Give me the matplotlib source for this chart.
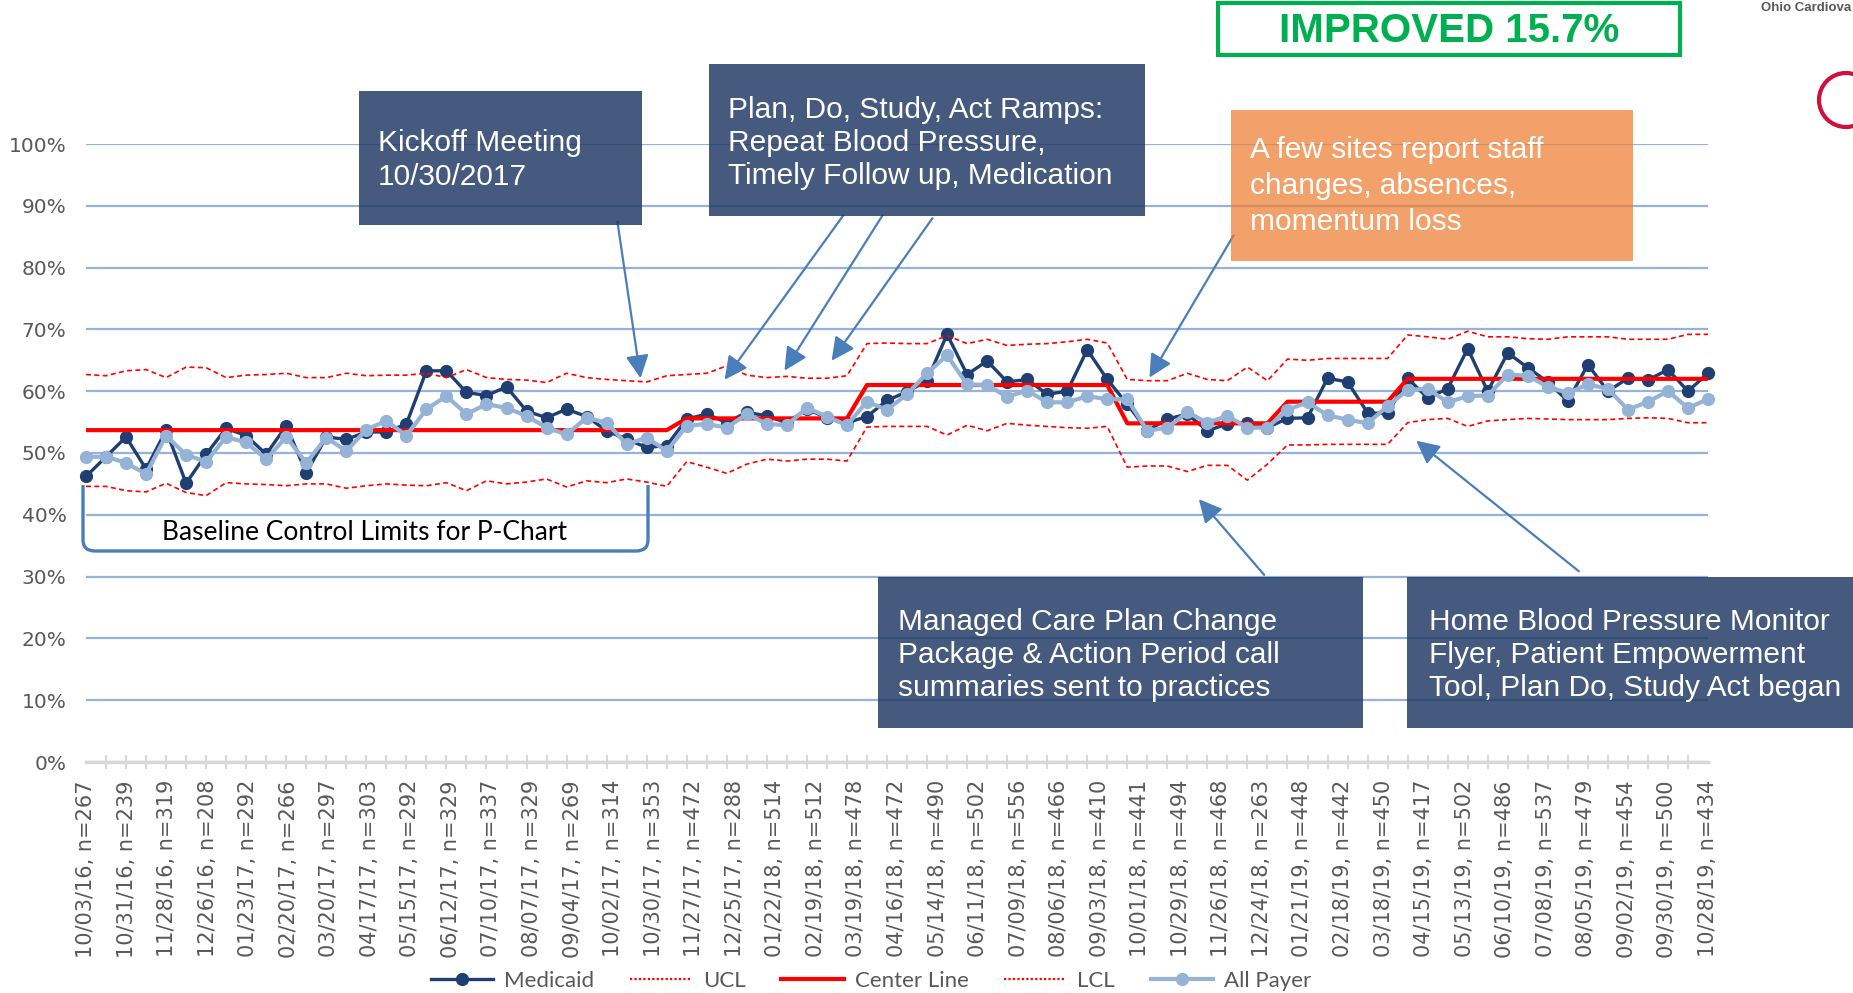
import numpy as np
import matplotlib.pyplot as plt
from matplotlib import font_manager
from matplotlib.patches import Rectangle, FancyArrowPatch, Circle, PathPatch
from matplotlib.path import Path
from matplotlib.lines import Line2D

W, H = 1853, 993

# x labels (every 4 weeks) and their sample sizes
label_dates = ["10/03/16", "10/31/16", "11/28/16", "12/26/16", "01/23/17", "02/20/17", "03/20/17",
               "04/17/17", "05/15/17", "06/12/17", "07/10/17", "08/07/17", "09/04/17", "10/02/17",
               "10/30/17", "11/27/17", "12/25/17", "01/22/18", "02/19/18", "03/19/18", "04/16/18",
               "05/14/18", "06/11/18", "07/09/18", "08/06/18", "09/03/18", "10/01/18", "10/29/18",
               "11/26/18", "12/24/18", "01/21/19", "02/18/19", "03/18/19", "04/15/19", "05/13/19",
               "06/10/19", "07/08/19", "08/05/19", "09/02/19", "09/30/19", "10/28/19"]
label_n = [267, 239, 319, 208, 292, 266, 297, 303, 292, 329, 337, 329, 269, 314, 353, 472, 288,
           514, 512, 478, 472, 490, 502, 556, 466, 410, 441, 494, 468, 263, 448, 442, 450, 417,
           502, 486, 537, 479, 454, 500, 434]

# percent values, one per plotted period
medicaid = [46.2, 49.4, 52.6, 47.4, 53.7, 45.1, 49.8, 54.0, 52.8, 49.8, 54.4, 46.8, 52.6, 52.2,
            53.4, 53.4, 54.7, 63.3, 63.3, 59.8, 59.3, 60.7, 56.8, 55.7, 57.1, 55.9, 53.6,
            52.2, 50.9, 51.2, 55.5, 56.3, 54.9, 56.6, 56.0, 54.9, 57.1, 55.7, 54.9, 55.9, 58.5,
            59.9, 61.7, 69.2, 62.7, 64.9, 61.5, 61.9, 59.5, 60.0, 66.7, 61.9, 57.9, 53.6,
            55.5, 56.3, 53.6, 54.7, 54.9, 54.1, 55.6, 55.7, 62.1, 61.5, 56.5, 56.4, 62.1, 58.9,
            60.4, 66.9, 60.0, 66.2, 63.8, 61.5, 58.4, 64.3, 60.0, 62.1, 61.8, 63.5, 60.0, 62.9]
all_payer = [49.4, 49.4, 48.4, 46.6, 52.8, 49.7, 48.6, 52.6, 51.7, 49.0, 52.6, 48.4, 52.5, 50.3,
             53.8, 55.2, 52.8, 57.1, 59.2, 56.3, 57.9, 57.3, 56.0, 54.1, 53.0, 55.7, 54.9,
             51.4, 52.5, 50.3, 54.4, 54.7, 54.1, 56.3, 54.7, 54.5, 57.3, 55.9, 54.5, 58.3, 57.0,
             59.5, 62.9, 65.8, 61.1, 61.0, 59.1, 60.1, 58.2, 58.2, 59.2, 58.7, 58.7, 53.6,
             54.1, 56.6, 54.9, 56.0, 54.1, 54.1, 57.0, 58.2, 56.1, 55.4, 54.8, 57.6, 60.2, 60.4,
             58.2, 59.2, 59.3, 62.7, 62.5, 60.7, 59.7, 61.1, 60.4, 57.0, 58.3, 60.0, 57.3, 58.7]
center_line = [53.7, 53.7, 53.7, 53.7, 53.7, 53.7, 53.7, 53.7, 53.7, 53.7, 53.7, 53.7, 53.7, 53.7,
               53.7, 53.7, 53.7, 53.7, 53.7, 53.7, 53.7, 53.7, 53.7, 53.7, 53.7, 53.7, 53.7,
               53.7, 53.7, 53.7, 55.6, 55.6, 55.6, 55.6, 55.6, 55.6, 55.6, 55.6, 55.6, 61.0, 61.0,
               61.0, 61.0, 61.0, 61.0, 61.0, 61.0, 61.0, 61.0, 61.0, 61.0, 61.0, 54.8, 54.8,
               54.8, 54.8, 54.8, 54.8, 54.8, 54.8, 58.3, 58.3, 58.3, 58.3, 58.3, 58.3, 62.0, 62.0,
               62.0, 62.0, 62.0, 62.0, 62.0, 62.0, 62.0, 62.0, 62.0, 62.0, 62.0, 62.0, 62.0, 62.0]
ucl = [62.7, 62.5, 63.3, 63.5, 62.2, 63.9, 63.8, 62.2, 62.6, 62.7, 62.9, 62.2, 62.2, 62.9,
       62.5, 62.6, 62.6, 62.9, 62.2, 63.5, 62.2, 61.9, 61.8, 61.4, 62.9, 62.2, 61.9,
       61.7, 61.5, 62.5, 62.7, 62.9, 64.1, 62.6, 62.2, 62.4, 62.1, 62.1, 62.5, 67.7, 67.8,
       67.7, 67.7, 69.0, 67.7, 68.4, 67.4, 67.6, 67.7, 68.0, 68.4, 67.8, 61.9, 61.7,
       61.7, 62.9, 61.9, 61.7, 63.9, 61.7, 65.2, 65.0, 65.3, 65.3, 65.3, 65.3, 69.1, 68.8,
       68.4, 69.7, 68.8, 68.8, 68.5, 68.4, 68.8, 68.8, 68.8, 68.4, 68.4, 68.4, 69.2, 69.2]
lcl = [44.6, 44.6, 43.9, 43.7, 45.1, 43.6, 43.1, 45.2, 45.0, 44.9, 44.7, 45.0, 45.0, 44.3,
       44.7, 45.0, 44.8, 44.7, 45.2, 43.9, 45.5, 45.0, 45.3, 45.8, 44.5, 45.5, 45.2,
       45.8, 45.3, 44.6, 48.6, 47.7, 46.7, 48.2, 49.0, 48.7, 49.0, 49.0, 48.7, 54.2, 54.3,
       54.3, 54.3, 52.9, 54.5, 53.6, 54.8, 54.5, 54.3, 54.1, 54.0, 54.3, 47.7, 47.9,
       47.9, 47.0, 48.0, 48.0, 45.6, 48.2, 51.3, 51.3, 51.4, 51.4, 51.4, 51.4, 54.9, 55.4,
       55.6, 54.3, 55.2, 55.4, 55.6, 55.5, 55.4, 55.4, 55.4, 55.6, 55.7, 55.6, 54.9, 54.9]

installed = {f.name for f in font_manager.fontManager.ttflist}
has_narrow = 'Liberation Sans Narrow' in installed
narrow = ['Liberation Sans Narrow'] if has_narrow else ['Liberation Sans', 'DejaVu Sans']
arial = ['Liberation Sans', 'DejaVu Sans']
calib = ['Lato', 'DejaVu Sans']

navy = '#1F3864'
dark = '#1F3F72'
light = '#95B3D7'
arrow_c = '#4A7EBB'
gray = '#595959'

fig = plt.figure(figsize=(W / 100, H / 100), dpi=100)
ax = fig.add_axes([86 / W, 1 - 762 / H, (1708 - 86) / W, (762 - 144) / H])

x = np.arange(len(medicaid))
ax.plot(x, medicaid, '-o', color=dark, lw=2.4, ms=8.5, zorder=3, clip_on=False)
ax.plot(x, ucl, color='red', lw=1.2, ls=(0, (3, 2)), zorder=3)
ax.plot(x, center_line, color='red', lw=3, zorder=3)
ax.plot(x, lcl, color='red', lw=1.2, ls=(0, (3, 2)), zorder=3)
ax.plot(x, all_payer, '-o', color=light, lw=3, ms=8.5, zorder=4, clip_on=False)

ax.set_xlim(0, len(medicaid) - 1)
ax.set_ylim(0, 100)
ax.set_yticks(range(0, 101, 10))
ax.set_yticklabels([f"{v}%" for v in range(0, 101, 10)])
ax.tick_params(axis='y', length=0, pad=14, labelsize=14.5, labelcolor=gray)

ax.set_xticks(np.linspace(0, len(medicaid) - 1, len(label_dates)))
ax.set_xticklabels([f"{d}, n={n}" for d, n in zip(label_dates, label_n)], rotation=90)
ax.set_xticks(x, minor=True)
ax.tick_params(axis='x', which='major', length=0, pad=13, labelsize=15, labelcolor=gray)
ax.tick_params(axis='x', which='minor', direction='inout', length=10, width=1.5, color='#D9D9D9')

ax.grid(axis='y', color=light, lw=1.6)
ax.set_axisbelow(True)
for s in ['top', 'right', 'left']:
    ax.spines[s].set_visible(False)
ax.spines['bottom'].set_color('#D9D9D9')
ax.spines['bottom'].set_linewidth(2.5)

handles = [Line2D([], [], color=dark, lw=2.4, marker='o', ms=8.5),
           Line2D([], [], color='red', lw=1.6, ls=(0, (1, 1))),
           Line2D([], [], color='red', lw=3),
           Line2D([], [], color='red', lw=1.6, ls=(0, (1, 1))),
           Line2D([], [], color=light, lw=3, marker='o', ms=8.5)]
leg = fig.legend(handles, ['Medicaid', 'UCL', 'Center Line', 'LCL', 'All Payer'],
                 loc='center', bbox_to_anchor=(871 / W, 1 - 981 / H), ncol=5, frameon=False,
                 handlelength=2.8, columnspacing=1.6, handletextpad=0.5,
                 prop={'family': calib, 'size': 16})
for t in leg.get_texts():
    t.set_color(gray)

# overlay in pixel coordinates for the call-outs
ov = fig.add_axes([0, 0, 1, 1], zorder=5)
ov.set_xlim(0, W)
ov.set_ylim(H, 0)
ov.axis('off')
ov.patch.set_alpha(0)

arrows = [((617, 219), (641, 381)),
          ((845, 213), (723, 382)),
          ((884, 213), (783, 373)),
          ((934, 216), (830, 363)),
          ((1235, 233), (1148, 380)),
          ((1266, 577), (1197, 497)),
          ((1581, 573), (1414, 439))]
for tail, head in arrows:
    ov.add_patch(FancyArrowPatch(tail, head, arrowstyle='-|>,head_length=1.0,head_width=0.5',
                                 mutation_scale=14, color=arrow_c, lw=1.6, zorder=1))

boxes = [(359, 91, 283, 134, navy, 0.83),
         (709, 64, 436, 152, navy, 0.83),
         (1231, 110, 402, 151, '#ED7D31', 0.72),
         (878, 577, 485, 151, navy, 0.83),
         (1407, 577, 460, 151, navy, 0.83)]
for bx, by, bw, bh, c, a in boxes:
    ov.add_patch(Rectangle((bx, by), bw, bh, facecolor=c, edgecolor='none', alpha=a, zorder=2))

notes = [(378, 160, "Kickoff Meeting\n10/30/2017", 1.26),
         (728, 143, "Plan, Do, Study, Act Ramps:\nRepeat Blood Pressure,\nTimely Follow up, Medication", 1.25),
         (1250, 186, "A few sites report staff\nchanges, absences,\nmomentum loss", 1.36),
         (898, 655, "Managed Care Plan Change\nPackage & Action Period call\nsummaries sent to practices", 1.25),
         (1429, 655, "Home Blood Pressure Monitor\nFlyer, Patient Empowerment\nTool, Plan Do, Study Act began", 1.25)]
for tx, ty, txt, ls in notes:
    ov.text(tx, ty, txt, ha='left', va='center', color='white', fontsize=21.5,
            family=arial, linespacing=ls, zorder=3)

# baseline bracket
verts = [(83, 485), (83, 540), (83, 551), (95, 551), (636, 551), (648, 551), (648, 540), (648, 485)]
codes = [Path.MOVETO, Path.LINETO, Path.CURVE3, Path.CURVE3, Path.LINETO, Path.CURVE3, Path.CURVE3, Path.LINETO]
ov.add_patch(PathPatch(Path(verts, codes), facecolor='none', edgecolor=arrow_c, lw=2.4, zorder=2))
ov.text(365, 532, "Baseline Control Limits for P-Chart", ha='center', va='center',
        fontsize=19, family=calib, color='black', zorder=3)

# improvement badge
ov.add_patch(Rectangle((1218, 3), 462, 52, facecolor='white', edgecolor='#00B050', lw=3, zorder=2))
ov.text(1449, 31, "IMPROVED 15.7%", ha='center', va='center', color='#00B050', fontweight='bold',
        fontsize=33 if has_narrow else 29, family=narrow, zorder=3)

ov.text(1851, 8, "Ohio Cardiova", ha='right', va='center', color=gray,
        fontsize=9.5, fontweight='bold', family=narrow, zorder=3)
ov.add_patch(Circle((1846, 100), 27, fill=False, edgecolor='#D0103A', lw=3, zorder=3))

fig.savefig('out.png', dpi=100)
